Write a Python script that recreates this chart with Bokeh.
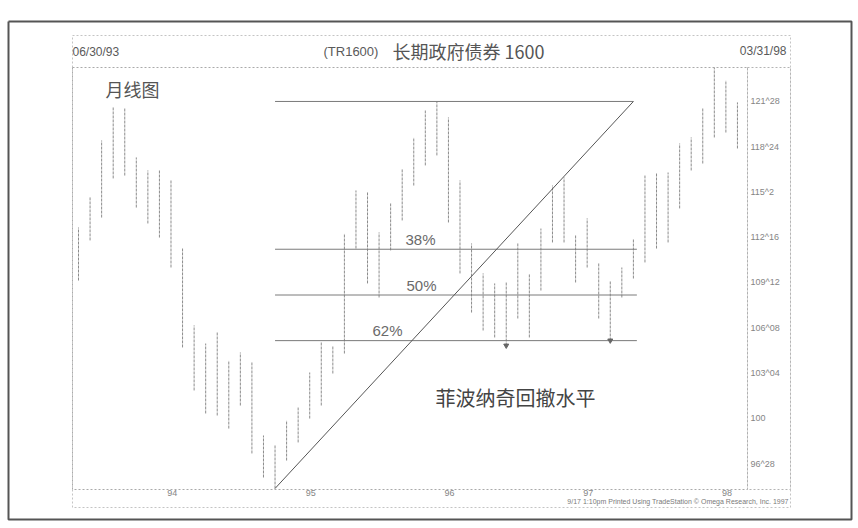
import pandas as pd
from bokeh.plotting import figure
from bokeh.models import ColumnDataSource, Range1d
from bokeh.core.properties import value
from bokeh.embed import file_html
from bokeh.resources import INLINE

# ---------------- data ----------------
months = [str(m) for m in pd.period_range("1993-06", "1998-03", freq="M")]
bar_high = [113.17, 115.25, 119.18, 121.46, 121.39, 118.01, 117.11, 117.11, 116.42, 111.72,
            106.41, 105.16, 105.92, 103.99, 104.54, 103.85, 98.81, 98.12, 99.85, 100.74,
            103.16, 105.23, 105.02, 112.76, 115.73, 115.59, 112.83, 114.83, 117.25, 119.39,
            121.25, 121.875, 120.77, 116.42, 112.07, 110.00, 109.31, 109.375, 112.07, 110.00,
            113.10, 116.07, 116.63, 112.62, 113.80, 110.69, 109.51, 110.41, 112.41, 116.76,
            116.90, 116.97, 118.97, 119.39, 121.39, 124.22, 123.33, 121.81]
bar_low = [109.51, 112.28, 113.86, 116.56, 116.76, 114.55, 113.45, 112.48, 110.41, 104.89,
           101.92, 100.33, 100.19, 99.29, 100.88, 97.57, 95.91, 95.15, 97.08, 98.33,
           99.98, 100.88, 103.09, 104.47, 111.72, 109.31, 108.34, 111.59, 113.66, 116.07,
           117.46, 118.15, 113.52, 110.00, 107.30, 106.06, 105.58, 105.02, 106.89, 105.58,
           108.82, 112.14, 112.14, 109.375, 110.41, 106.89, 105.37, 108.34, 109.65, 110.76,
           111.72, 112.14, 114.49, 117.11, 117.59, 119.39, 119.73, 118.63]

price_ticks = [121.875, 118.75, 115.625, 112.5, 109.375, 106.25, 103.125, 100.0, 96.875]
price_tick_labels = ["121^28", "118^24", "115^2", "112^16", "109^12", "106^08", "103^04", "100", "96^28"]
year_months = ["1994-01", "1995-01", "1996-01", "1997-01", "1998-01"]
year_labels = ["94", "95", "96", "97", "98"]

swing_low_month, swing_low = "1994-11", 95.15
swing_high = 121.875
fib_end_month = "1997-06"
fib_labels = ["38%", "50%", "62%"]
fib_levels = [111.67, 108.51, 105.36]
arrow_months = ["1996-07", "1997-04"]

title_code = "(TR1600)"
title_name = "长期政府债券 1600"
start_date, end_date = "06/30/93", "03/31/98"
chart_note = "月线图"
fib_note = "菲波纳奇回撤水平"
footer = "9/17  1:10pm  Printed Using TradeStation \u00a9 Omega Research, Inc. 1997"

# ---------------- layout (page pixels) ----------------
W, H = 858, 528
FRAME_L, FRAME_R, FRAME_T, FRAME_B = 72, 747, 67, 489     # price-chart box
FX0, FX1 = -0.52, 57.87                                    # month index at box edges
FY0, FY1 = 95.08, 124.22                                   # price at box bottom / top

def dx(px):
    return FX0 + (px - FRAME_L) * (FX1 - FX0) / (FRAME_R - FRAME_L)

def dy(py):
    return FY1 - (py - FRAME_T) * (FY1 - FY0) / (FRAME_B - FRAME_T)

idx = {m: i for i, m in enumerate(months)}
LABEL_SHIFT = 1.1

p = figure(width=W, height=H, output_backend="svg", toolbar_location=None, title=None,
           x_range=Range1d(dx(0), dx(W)), y_range=Range1d(dy(H), dy(0)),
           x_axis_location=None, y_axis_location=None,
           min_border_left=0, min_border_right=0, min_border_top=0, min_border_bottom=0)
p.grid.visible = False
p.background_fill_color = "white"
p.border_fill_color = "white"
p.outline_line_color = None

def outline(l, r, t, b, color, width, dash):
    p.line(x=[dx(l), dx(r), dx(r), dx(l), dx(l)], y=[dy(t), dy(t), dy(b), dy(b), dy(t)],
           line_color=color, line_width=width, line_dash=dash)

# boxes of the printed chart and the scanned page
outline(72, 790, 35, 507, "#c4c4c4", 1, "2 2")
outline(FRAME_L, FRAME_R, FRAME_T, FRAME_B, "#aaaaaa", 1, "2 2")
outline(FRAME_R, 790, FRAME_T, FRAME_B, "#b4b4b4", 1, "2 2")
outline(8, 851, 21, 519, "#555555", 2, "solid")

# bars
src = ColumnDataSource(dict(x=list(range(len(months))), high=bar_high, low=bar_low))
p.segment(x0="x", x1="x", y0="low", y1="high", source=src,
          line_color="#8c8c8c", line_width=1, line_dash="3 1")

# fibonacci construction
i_lo, i_hi = idx[swing_low_month], idx[fib_end_month]
p.segment(x0=[i_lo], x1=[i_hi], y0=[swing_high], y1=[swing_high], line_color="#7a7a7a", line_width=1)
p.segment(x0=[i_lo] * len(fib_levels), x1=[i_hi + 0.3] * len(fib_levels),
          y0=fib_levels, y1=fib_levels, line_color="#7a7a7a", line_width=1)
p.line(x=[i_lo, i_hi], y=[swing_low, swing_high], line_color="#555555", line_width=1)

p.scatter(x=[idx[m] for m in arrow_months], y=[bar_low[idx[m]] for m in arrow_months],
          marker="inverted_triangle", size=5, color="#666666")

# price scale (right) and year scale (bottom)
p.text(x=[dx(750)] * len(price_ticks), y=price_ticks, text=price_tick_labels,
       text_font=value("Liberation Sans"), text_font_size=value("9px"),
       text_color="#858585", text_align="left", text_baseline="middle")
p.text(x=[idx[m] + LABEL_SHIFT for m in year_months], y=[dy(492)] * len(year_months), text=year_labels,
       text_font=value("Liberation Sans"), text_font_size=value("9px"),
       text_color="#858585", text_align="center", text_baseline="middle")

# texts inside the chart
p.text(x=[dx(420), dx(421), dx(387)], y=fib_levels, text=fib_labels,
       text_font=value("Liberation Sans"), text_font_size=value("15px"),
       text_color="#6a6a6a", text_align="center", text_baseline="middle", y_offset=-10)
p.text(x=[dx(515)], y=[dy(397)], text=[fib_note], text_font=value("Noto Sans CJK SC"),
       text_font_size=value("20px"), text_color="#444444", text_align="center", text_baseline="middle")
p.text(x=[dx(132)], y=[dy(88)], text=[chart_note], text_font=value("Noto Sans CJK SC"),
       text_font_size=value("18px"), text_color="#555555", text_align="center", text_baseline="middle")

# header / footer
def lab(text, px, py, size, align, font="Liberation Sans", color="#5a5a5a"):
    p.text(x=[dx(px)], y=[dy(py)], text=[text], text_font=value(font), text_font_size=value(size),
           text_color=color, text_align=align, text_baseline="middle")

lab(start_date, 72, 51, "12px", "left")
lab(title_code, 323, 51, "13px", "left")
lab(title_name, 392, 50, "18px", "left", font="Noto Sans CJK SC", color="#555555")
lab(end_date, 786, 50, "12px", "right")
lab(footer, 792, 501, "7px", "right", color="#7a7a7a")

open("out.html", "w").write(file_html(p, INLINE))
